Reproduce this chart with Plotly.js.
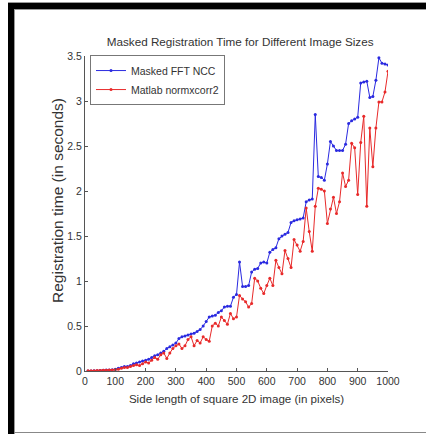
<!DOCTYPE html>
<html>
<head>
<meta charset="utf-8">
<script src="https://cdn.plot.ly/plotly-3.0.1.min.js"></script>
<style>
  html, body { margin: 0; padding: 0; background: #fff; }
  #wrap { position: relative; width: 426px; height: 434px; overflow: hidden; }
  #chart { position: absolute; left: 0; top: 0; width: 426px; height: 434px; }
  .fr { position: absolute; pointer-events: none; }
</style>
</head>
<body>
<div id="wrap">
  <div id="chart"></div>
  <div class="fr" style="left:8px; top:2px; width:418px; height:1px; background:#999;"></div>
  <div class="fr" style="left:8px; top:3px; width:418px; height:6px; background:#000;"></div>
  <div class="fr" style="left:14px; top:9px; width:412px; height:1px; background:#999;"></div>
  <div class="fr" style="left:8px; top:3px; width:6px; height:431px; background:#000;"></div>
  <div class="fr" style="left:14px; top:9px; width:1px; height:425px; background:#999;"></div>
  <div class="fr" style="left:14px; top:432px; width:412px; height:1px; background:#888;"></div>
</div>
<script>
const sideLength = [10,20,30,40,50,60,70,80,90,100,
  110,120,130,140,150,160,170,180,190,200,
  210,220,230,240,250,260,270,280,290,300,
  310,320,330,340,350,360,370,380,390,400,
  410,420,430,440,450,460,470,480,490,500,
  510,520,530,540,550,560,570,580,590,600,
  610,620,630,640,650,660,670,680,690,700,
  710,720,730,740,750,760,770,780,790,800,
  810,820,830,840,850,860,870,880,890,900,
  910,920,930,940,950,960,970,980,990,1000];

const maskedFFT = [0.000,0.000,0.002,0.004,0.005,0.008,0.010,0.010,0.014,0.020,
  0.030,0.040,0.050,0.050,0.060,0.080,0.090,0.100,0.110,0.120,
  0.130,0.150,0.170,0.180,0.200,0.220,0.250,0.270,0.290,0.310,
  0.360,0.380,0.390,0.400,0.410,0.420,0.440,0.460,0.500,0.550,
  0.600,0.610,0.620,0.650,0.670,0.710,0.720,0.720,0.820,0.850,
  1.210,0.940,0.940,0.950,1.100,1.130,1.140,1.200,1.210,1.200,
  1.320,1.350,1.370,1.470,1.500,1.520,1.540,1.650,1.670,1.680,
  1.690,1.700,1.880,1.900,1.910,2.850,2.160,2.150,2.120,2.300,
  2.550,2.500,2.450,2.450,2.450,2.520,2.750,2.780,2.800,2.820,
  3.200,3.210,3.220,3.040,3.050,3.230,3.480,3.420,3.410,3.400];

const normxcorr2 = [0.002,0.003,0.004,0.005,0.006,0.007,0.008,0.010,0.012,0.015,
  0.020,0.030,0.040,0.040,0.050,0.060,0.070,0.060,0.080,0.100,
  0.090,0.120,0.150,0.130,0.180,0.200,0.140,0.200,0.250,0.280,
  0.300,0.250,0.280,0.350,0.380,0.280,0.340,0.310,0.380,0.350,
  0.330,0.500,0.530,0.500,0.600,0.560,0.520,0.640,0.580,0.600,
  0.840,0.800,0.770,0.710,0.750,1.030,1.000,0.920,0.860,0.950,
  1.030,0.950,1.230,1.150,1.080,1.340,1.250,1.150,1.460,1.400,
  1.330,1.440,1.810,1.550,1.330,1.830,2.030,2.020,2.000,1.640,
  1.800,1.930,1.750,1.880,2.200,2.050,2.120,2.530,2.480,1.960,
  2.540,2.830,1.830,2.700,2.270,2.700,2.990,2.990,3.100,3.330];

const xTicks = [0,100,200,300,400,500,600,700,800,900,1000];
const xTickText = ["0","100","200","300","400","500","600","700","800","900","1000"];
const yTicks = [0,0.5,1,1.5,2,2.5,3,3.5];
const yTickText = ["0","0.5","1","1.5","2","2.5","3","3.5"];

const FONT = "Liberation Sans, Arial, Helvetica, sans-serif";

const traces = [
  {
    x: sideLength, y: maskedFFT, name: "Masked FFT NCC",
    type: "scatter", mode: "lines+markers",
    line: { color: "#2a2ae0", width: 1 },
    marker: { color: "#2a2ae0", size: 3 }
  },
  {
    x: sideLength, y: normxcorr2, name: "Matlab normxcorr2",
    type: "scatter", mode: "lines+markers",
    line: { color: "#e82a2a", width: 1 },
    marker: { color: "#e82a2a", size: 3 }
  }
];

const axisCommon = {
  showgrid: false, zeroline: false, showline: true,
  linecolor: "#555", linewidth: 1,
  ticks: "inside", ticklen: 3, tickcolor: "#555",
  tickfont: { family: FONT, size: 10.5, color: "#333" }
};

const layout = {
  width: 426, height: 434,
  margin: { l: 85, r: 38, t: 56, b: 63 },
  paper_bgcolor: "#fff", plot_bgcolor: "#fff",
  showlegend: true,
  title: {
    text: "Masked Registration Time for Different Image Sizes",
    font: { family: FONT, size: 11.7, color: "#333" },
    x: 0.512, xref: "paper", xanchor: "center",
    y: 1 - 42/434, yref: "container", yanchor: "middle"
  },
  xaxis: Object.assign({}, axisCommon, {
    range: [0, 1000], tickvals: xTicks, ticktext: xTickText,
    title: { text: "Side length of square 2D image (in pixels)",
             font: { family: FONT, size: 11.6, color: "#333" }, standoff: 9 }
  }),
  yaxis: Object.assign({}, axisCommon, {
    range: [0, 3.5], tickvals: yTicks, ticktext: yTickText,
    title: { text: "" }
  }),
  legend: {
    x: 0.0165, xanchor: "left", y: 1.003, yanchor: "top",
    bgcolor: "#fff", bordercolor: "#777", borderwidth: 1,
    font: { family: FONT, size: 10.5, color: "#333" },
    tracegroupgap: 0, itemwidth: 30
  },
  annotations: [{
    text: "Registration time (in seconds)",
    textangle: -90, showarrow: false,
    xref: "paper", yref: "paper",
    x: (57 - 85) / 303, y: (371 - 201) / 315,
    xanchor: "center", yanchor: "middle",
    font: { family: FONT, size: 15.5, color: "#333" }
  }]
};

Plotly.newPlot("chart", traces, layout, { displayModeBar: false, staticPlot: true });
</script>
</body>
</html>
